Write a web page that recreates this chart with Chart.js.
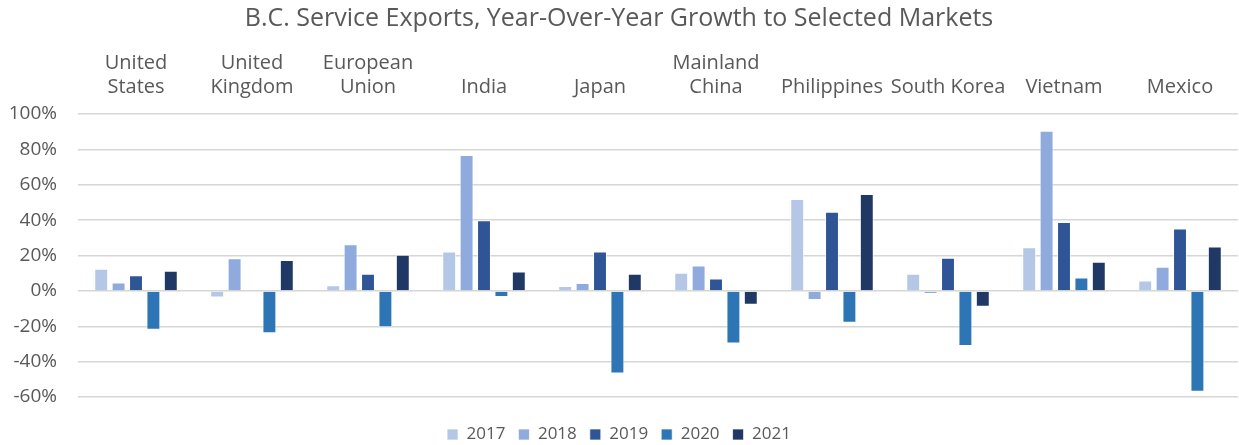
<!DOCTYPE html>
<html>
<head>
<meta charset="utf-8">
<script src="https://cdn.jsdelivr.net/npm/chart.js@4/dist/chart.umd.min.js"></script>
<style>
  html, body { margin: 0; padding: 0; background: #fff; }
  #wrap { width: 1239px; height: 445px; position: relative; }
</style>
</head>
<body>
<div id="wrap"><canvas id="ChartServiceExports"></canvas></div>
<script>
// markets along the top axis (split over two lines where needed)
const markets = [
    ['United', 'States'],
    ['United', 'Kingdom'],
    ['European', 'Union'],
    'India',
    'Japan',
    ['Mainland', 'China'],
    'Philippines',
    'South Korea',
    'Vietnam',
    'Mexico'
];

// year-over-year growth, percent
const growth2017 = [12.5, -3.8, 3.2, 22.3, 2.7, 10.3, 52.0, 9.7, 24.6, 5.9];
const growth2018 = [4.8, 18.5, 26.3, 76.8, 4.4, 14.3, -5.1, -1.7, 90.5, 13.7];
const growth2019 = [8.8, 0, 9.7, 40.0, 22.3, 7.0, 44.8, 18.7, 38.9, 35.2];
const growth2020 = [-22.0, -24.0, -20.5, -3.4, -46.7, -29.7, -18.0, -31.2, 7.6, -57.1];
const growth2021 = [11.4, 17.5, 20.4, 10.9, 9.7, -7.8, 54.7, -9.0, 16.4, 25.1];

const yearLabels = ['2017', '2018', '2019', '2020', '2021'];
const yearColors = ['#b4c7e7', '#8faadc', '#2f5597', '#2e75b6', '#203864'];

const textColor = '#595959';
const fontFamily = '"Open Sans", "Liberation Sans", sans-serif';

const series = [growth2017, growth2018, growth2019, growth2020, growth2021];

const ctx = document.getElementById('ChartServiceExports').getContext('2d');
const myChart = new Chart(ctx, {
    type: 'bar',
    data: {
        labels: markets,
        datasets: series.map(function(values, i) {
            return {
                label: yearLabels[i],
                data: values,
                backgroundColor: yearColors[i],
                borderColor: 'rgba(255, 255, 255, 0.7)',
                borderWidth: 1,
                barPercentage: 0.8,
                categoryPercentage: 0.75
            };
        })
    },
    options: {
        responsive: true,
        maintainAspectRatio: false,
        animation: false,
        layout: {
            padding: { left: 0, right: 1, top: 0, bottom: -8 }
        },
        plugins: {
            title: {
                display: true,
                text: 'B.C. Service Exports, Year-Over-Year Growth to Selected Markets',
                color: textColor,
                font: { family: fontFamily, size: 25, weight: 'normal' },
                padding: { top: 4, bottom: 10 }
            },
            legend: {
                position: 'bottom',
                // blank title just pushes the legend row down a little
                title: {
                    display: true,
                    text: ' ',
                    font: { size: 16, lineHeight: 1 },
                    padding: 0
                },
                labels: {
                    color: textColor,
                    font: { family: fontFamily, size: 17 },
                    boxWidth: 11,
                    boxHeight: 11,
                    padding: 13
                }
            },
            tooltip: { enabled: false }
        },
        scales: {
            x: {
                position: 'top',
                grid: { display: false },
                border: { display: false },
                ticks: {
                    color: textColor,
                    font: { family: fontFamily, size: 20, lineHeight: 1.2 },
                    maxRotation: 0,
                    autoSkip: false,
                    padding: 7
                }
            },
            y: {
                min: -60,
                max: 100,
                border: { display: false },
                grid: {
                    color: '#d6d6d6',
                    lineWidth: 1.5,
                    drawTicks: false
                },
                ticks: {
                    stepSize: 20,
                    color: textColor,
                    font: { family: fontFamily, size: 19 },
                    padding: 21,
                    callback: function(value) {
                        return value + '%';
                    }
                },
                afterFit: function(scale) {
                    scale.width = 78;
                }
            }
        }
    }
});
</script>
</body>
</html>
